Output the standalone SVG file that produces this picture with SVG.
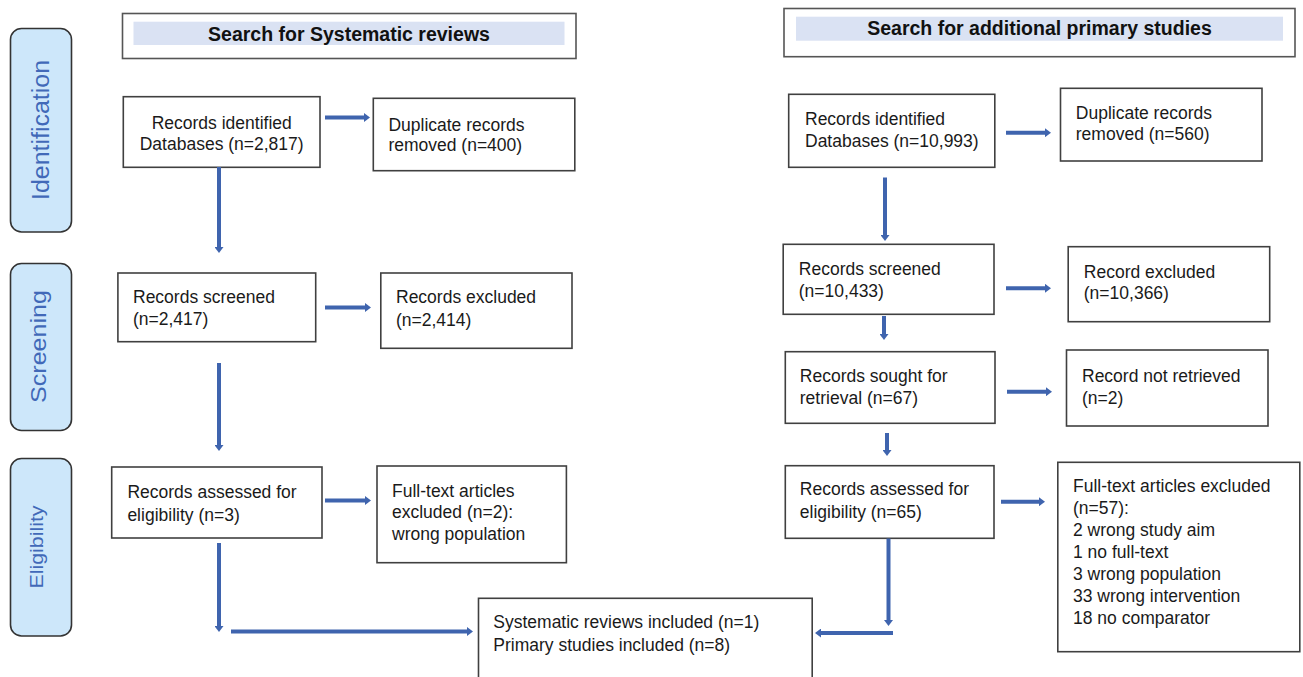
<svg xmlns="http://www.w3.org/2000/svg" width="1303" height="677" viewBox="0 0 1303 677">
<style>
  .bg{fill:#ffffff}
  .box{fill:#ffffff;stroke:#404040;stroke-width:1.6}
  .hdr{fill:#ffffff;stroke:#555555;stroke-width:1.6}
  .band{fill:#dae2f3;stroke:none}
  .phase{fill:#cde7fa;stroke:#333333;stroke-width:1.6}
  .ptxt{font-family:"Liberation Sans",Arial,sans-serif;fill:#4169b8;text-anchor:middle}
  .t{font-family:"Liberation Sans",Arial,sans-serif;font-size:17.5px;fill:#1a1a1a}
  .c{text-anchor:middle}
  .h{font-family:"Liberation Sans",Arial,sans-serif;font-size:19.5px;font-weight:bold;fill:#111111;text-anchor:middle}
  .ar{fill:none;stroke:#3f64ae;stroke-width:4;marker-end:url(#ah)}
</style>
<defs>
  <marker id="ah" markerUnits="userSpaceOnUse" viewBox="0 0 6 9" markerWidth="6" markerHeight="9" refX="0.5" refY="4.5" orient="auto">
    <path d="M0,0 L6,4.5 L0,9 z" fill="#3f64ae"/>
  </marker>
</defs>
<rect class="bg" x="0" y="0" width="1303" height="677"/>

<g id="phase-identification">
  <rect class="phase" x="10.5" y="28.5" width="61" height="203.5" rx="11"/>
  <text class="ptxt" font-size="23" transform="translate(49,130) rotate(-90)" textLength="140" lengthAdjust="spacingAndGlyphs">Identification</text>
</g>
<g id="phase-screening">
  <rect class="phase" x="10.5" y="263.5" width="61" height="167" rx="11"/>
  <text class="ptxt" font-size="22" transform="translate(46,346.5) rotate(-90)" textLength="113" lengthAdjust="spacingAndGlyphs">Screening</text>
</g>
<g id="phase-eligibility">
  <rect class="phase" x="10.5" y="458.5" width="61" height="177.5" rx="11"/>
  <text class="ptxt" font-size="19" transform="translate(43,547) rotate(-90)" textLength="83" lengthAdjust="spacingAndGlyphs">Eligibility</text>
</g>

<g id="header-left">
  <rect class="hdr" x="122.5" y="13.5" width="453.5" height="45"/>
  <rect class="band" x="133.5" y="21.7" width="431" height="23.3"/>
  <text class="h" x="349" y="40.5">Search for Systematic reviews</text>
</g>
<g id="header-right">
  <rect class="hdr" x="784" y="8.5" width="511" height="48.2"/>
  <rect class="band" x="796" y="16.7" width="487" height="24"/>
  <text class="h" x="1039.5" y="34.5">Search for additional primary studies</text>
</g>

<g id="sr-identified">
  <rect class="box" x="123.3" y="96.7" width="196.7" height="70.6"/>
  <text class="t c" x="221.7" y="129.3">Records identified</text>
  <text class="t c" x="221.7" y="149.5">Databases (n=2,817)</text>
</g>
<g id="sr-duplicates">
  <rect class="box" x="373.3" y="98.3" width="201.5" height="72.4"/>
  <text class="t" x="388.4" y="131">Duplicate records</text>
  <text class="t" x="388.4" y="151">removed (n=400)</text>
</g>
<g id="sr-screened">
  <rect class="box" x="117.9" y="273" width="197.8" height="68.7"/>
  <text class="t" x="133" y="303.3">Records screened</text>
  <text class="t" x="133" y="325">(n=2,417)</text>
</g>
<g id="sr-excluded">
  <rect class="box" x="380.8" y="273" width="191.2" height="75.3"/>
  <text class="t" x="396" y="303">Records excluded</text>
  <text class="t" x="396" y="326">(n=2,414)</text>
</g>
<g id="sr-assessed">
  <rect class="box" x="111.7" y="467" width="210.3" height="71"/>
  <text class="t" x="127.4" y="498.3">Records assessed for</text>
  <text class="t" x="127.4" y="520.7">eligibility (n=3)</text>
</g>
<g id="sr-fulltext-excluded">
  <rect class="box" x="377" y="466" width="189.4" height="96.7"/>
  <text class="t" x="392" y="496.7">Full-text articles</text>
  <text class="t" x="392" y="518.3">excluded (n=2):</text>
  <text class="t" x="392" y="539.5">wrong population</text>
</g>
<g id="included">
  <rect class="box" x="478.5" y="598.3" width="333.7" height="95"/>
  <text class="t" x="493.3" y="628.3">Systematic reviews included (n=1)</text>
  <text class="t" x="493.3" y="650.7">Primary studies included (n=8)</text>
</g>

<g id="ps-identified">
  <rect class="box" x="788.7" y="94.3" width="206.1" height="73"/>
  <text class="t" x="805" y="125">Records identified</text>
  <text class="t" x="805" y="146.7">Databases (n=10,993)</text>
</g>
<g id="ps-duplicates">
  <rect class="box" x="1060.5" y="88.3" width="201.5" height="72.7"/>
  <text class="t" x="1075.8" y="119.3">Duplicate records</text>
  <text class="t" x="1075.8" y="140">removed (n=560)</text>
</g>
<g id="ps-screened">
  <rect class="box" x="783.2" y="244.3" width="210.8" height="70"/>
  <text class="t" x="798.8" y="275">Records screened</text>
  <text class="t" x="798.8" y="296.7">(n=10,433)</text>
</g>
<g id="ps-excluded">
  <rect class="box" x="1068.2" y="246.7" width="201.5" height="75"/>
  <text class="t" x="1083.8" y="278.3">Record excluded</text>
  <text class="t" x="1083.8" y="299">(n=10,366)</text>
</g>
<g id="ps-sought">
  <rect class="box" x="785.3" y="351.7" width="209.7" height="71.6"/>
  <text class="t" x="799.8" y="381.7">Records sought for</text>
  <text class="t" x="799.8" y="404">retrieval (n=67)</text>
</g>
<g id="ps-not-retrieved">
  <rect class="box" x="1066.5" y="350" width="201.5" height="76"/>
  <text class="t" x="1082" y="381.7">Record not retrieved</text>
  <text class="t" x="1082" y="404">(n=2)</text>
</g>
<g id="ps-assessed">
  <rect class="box" x="785.3" y="465.7" width="208.7" height="72.6"/>
  <text class="t" x="799.8" y="495">Records assessed for</text>
  <text class="t" x="799.8" y="518.3">eligibility (n=65)</text>
</g>
<g id="ps-fulltext-excluded">
  <rect class="box" x="1057.8" y="462.3" width="242" height="189.4"/>
  <text class="t" x="1073" y="491.7">Full-text articles excluded</text>
  <text class="t" x="1073" y="514">(n=57):</text>
  <text class="t" x="1073" y="536">2 wrong study aim</text>
  <text class="t" x="1073" y="558">1 no full-text</text>
  <text class="t" x="1073" y="580">3 wrong population</text>
  <text class="t" x="1073" y="602">33 wrong intervention</text>
  <text class="t" x="1073" y="623.5">18 no comparator</text>
</g>

<g id="connectors">
  <path class="ar" d="M325,117.5 H364.5"/>
  <path class="ar" d="M219,167 V247.5"/>
  <path class="ar" d="M325,307.5 H365.5"/>
  <path class="ar" d="M219,363 V445.5"/>
  <path class="ar" d="M325,500.5 H365.5"/>
  <path class="ar" d="M219,543 V626.5"/>
  <path class="ar" d="M231,631.5 H467.5"/>
  <path class="ar" d="M1006,132.7 H1045.5"/>
  <path class="ar" d="M885,177.5 V235.5"/>
  <path class="ar" d="M1006,288.3 H1045.5"/>
  <path class="ar" d="M884,316 V334.5"/>
  <path class="ar" d="M1007,391.7 H1046.5"/>
  <path class="ar" d="M887,433 V450.5"/>
  <path class="ar" d="M1001,501.7 H1039.5"/>
  <path class="ar" d="M888.5,538.5 V620.5"/>
  <path class="ar" d="M893,633 H820.5"/>
</g>
</svg>
